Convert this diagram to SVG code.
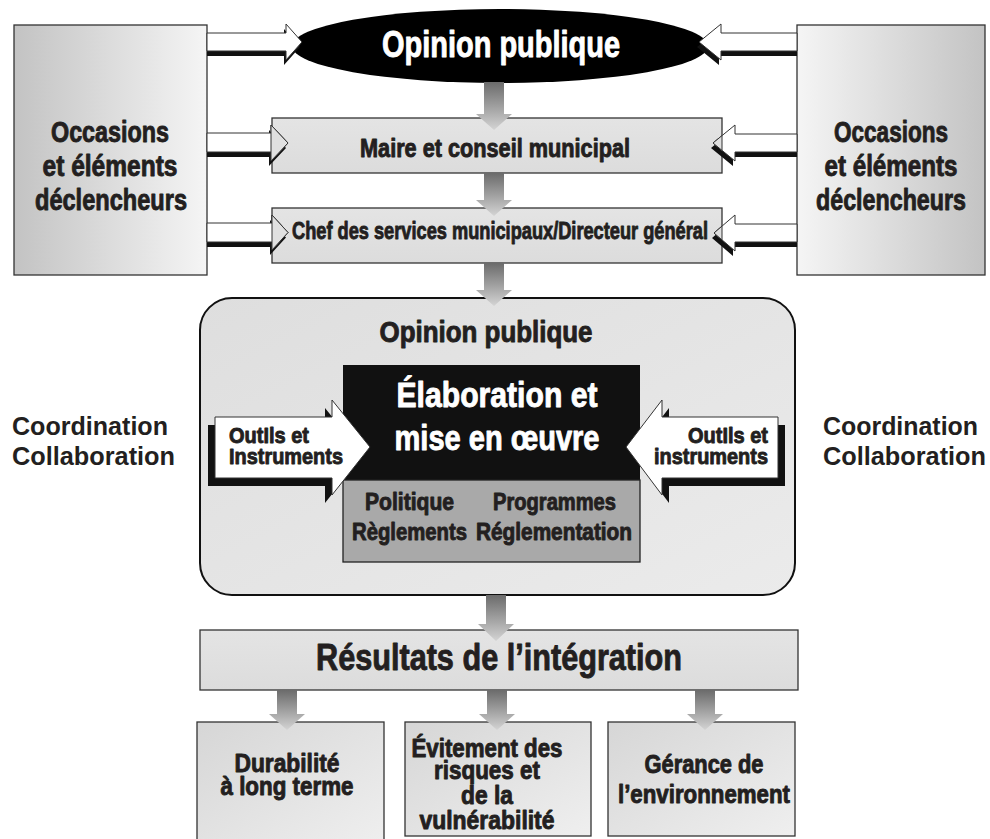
<svg xmlns="http://www.w3.org/2000/svg" width="990" height="839" viewBox="0 0 990 839">
<style>
.t{font-family:"Liberation Sans Narrow","Liberation Sans",Arial,sans-serif;font-weight:bold;fill:#231f20;stroke:#231f20;stroke-width:0.9;stroke-linejoin:round}
.w{font-family:"Liberation Sans Narrow","Liberation Sans",Arial,sans-serif;font-weight:bold;fill:#ffffff;stroke:#ffffff;stroke-width:0.9;stroke-linejoin:round}
.h{font-family:"Liberation Sans",Arial,sans-serif;font-weight:bold;fill:#231f20}
.box{stroke:#333;stroke-width:1.3}
.out{fill:#fff;stroke:#333;stroke-width:1}
.sh{fill:#111}
.inh{fill:#e0e0e0;stroke:#333;stroke-width:1}
.down{fill:url(#gDown)}
</style>
<defs>
<linearGradient id="gLeft" x1="0" y1="0" x2="1" y2="0"><stop offset="0" stop-color="#c3c3c3"/><stop offset="1" stop-color="#f5f5f5"/></linearGradient>
<linearGradient id="gRight" x1="0" y1="0" x2="1" y2="0"><stop offset="0" stop-color="#f5f5f5"/><stop offset="1" stop-color="#c3c3c3"/></linearGradient>
<linearGradient id="gBox" x1="0" y1="0" x2="0" y2="1"><stop offset="0" stop-color="#e4e4e4"/><stop offset="1" stop-color="#dcdcdc"/></linearGradient>
<linearGradient id="gRound" x1="0" y1="0" x2="1" y2="1"><stop offset="0" stop-color="#dedede"/><stop offset="1" stop-color="#ebebeb"/></linearGradient>
<linearGradient id="gBottom" x1="0" y1="0" x2="1" y2="1"><stop offset="0" stop-color="#d6d6d6"/><stop offset="1" stop-color="#efefef"/></linearGradient>
<linearGradient id="gDown" x1="0" y1="0" x2="0" y2="1"><stop offset="0" stop-color="#6b6b6b"/><stop offset="0.6" stop-color="#a9a9a9"/><stop offset="1" stop-color="#d4d4d4"/></linearGradient>
</defs>
<rect width="990" height="839" fill="#fff"/>

<g id="occasions-left">
<rect class="box" x="14" y="25" width="193" height="250" fill="url(#gLeft)"/>
<text class="t" x="110" y="142" font-size="29" text-anchor="middle" textLength="118" lengthAdjust="spacingAndGlyphs">Occasions</text>
<text class="t" x="110" y="176" font-size="29" text-anchor="middle" textLength="135" lengthAdjust="spacingAndGlyphs">et éléments</text>
<text class="t" x="111" y="210" font-size="29" text-anchor="middle" textLength="152" lengthAdjust="spacingAndGlyphs">déclencheurs</text>
</g>
<g id="occasions-right">
<rect class="box" x="797" y="25" width="188" height="250" fill="url(#gRight)"/>
<text class="t" x="891" y="142" font-size="29" text-anchor="middle" textLength="114" lengthAdjust="spacingAndGlyphs">Occasions</text>
<text class="t" x="891" y="176" font-size="29" text-anchor="middle" textLength="133" lengthAdjust="spacingAndGlyphs">et éléments</text>
<text class="t" x="891" y="210" font-size="29" text-anchor="middle" textLength="150" lengthAdjust="spacingAndGlyphs">déclencheurs</text>
</g>
<g id="opinion-top">
<ellipse cx="500" cy="46" rx="208" ry="37" fill="#000"/>
<text class="w" x="501" y="57" font-size="36" text-anchor="middle" textLength="238" lengthAdjust="spacingAndGlyphs">Opinion publique</text>
</g>
<g id="maire">
<rect class="box" x="272" y="118" width="450" height="55" fill="url(#gBox)"/>
<text class="t" x="495" y="157" font-size="25" text-anchor="middle" textLength="270" lengthAdjust="spacingAndGlyphs">Maire et conseil municipal</text>
</g>
<g id="chef">
<rect class="box" x="272" y="208" width="450" height="55" fill="url(#gBox)"/>
<text class="t" x="500" y="239" font-size="24" text-anchor="middle" textLength="416" lengthAdjust="spacingAndGlyphs">Chef des services municipaux/Directeur général</text>
</g>
<g id="coordination-left">
<text class="h" x="12" y="435" font-size="25" textLength="156" lengthAdjust="spacingAndGlyphs">Coordination</text>
<text class="h" x="12" y="465" font-size="25" textLength="163" lengthAdjust="spacingAndGlyphs">Collaboration</text>
</g>
<g id="coordination-right">
<text class="h" x="823" y="435" font-size="25" textLength="155" lengthAdjust="spacingAndGlyphs">Coordination</text>
<text class="h" x="823" y="465" font-size="25" textLength="163" lengthAdjust="spacingAndGlyphs">Collaboration</text>
</g>
<g id="cadre-politique">
<rect x="200" y="298" width="595" height="297" rx="32" fill="url(#gRound)" stroke="#111" stroke-width="2"/>
<text class="t" x="486" y="342" font-size="29" text-anchor="middle" textLength="213" lengthAdjust="spacingAndGlyphs">Opinion publique</text>
</g>
<g id="elaboration">
<rect x="343" y="365" width="297" height="115" fill="#111"/>
<text class="w" x="497" y="407" font-size="35" text-anchor="middle" textLength="201" lengthAdjust="spacingAndGlyphs">Élaboration et</text>
<text class="w" x="497" y="450" font-size="35" text-anchor="middle" textLength="205" lengthAdjust="spacingAndGlyphs">mise en œuvre</text>
</g>
<g id="instruments-liste">
<rect x="343" y="480" width="297" height="82" fill="#a9a9a9" stroke="#222" stroke-width="1.3"/>
<text class="t" x="365" y="510" font-size="23" textLength="89" lengthAdjust="spacingAndGlyphs">Politique</text>
<text class="t" x="493" y="510" font-size="23" textLength="123" lengthAdjust="spacingAndGlyphs">Programmes</text>
<text class="t" x="352" y="540" font-size="23" textLength="115" lengthAdjust="spacingAndGlyphs">Règlements</text>
<text class="t" x="476" y="540" font-size="23" textLength="156" lengthAdjust="spacingAndGlyphs">Réglementation</text>
</g>
<g id="outils-gauche">
<polygon class="sh" points="208,425 325,425 325,408 363,455 325,503 325,486 208,486"/>
<polygon class="out" points="215,417 332,417 332,400 370,447 332,495 332,478 215,478"/>
<text class="t" x="229" y="443" font-size="22" textLength="80" lengthAdjust="spacingAndGlyphs">OutIls et</text>
<text class="t" x="229" y="464" font-size="22" textLength="114" lengthAdjust="spacingAndGlyphs">Instruments</text>
</g>
<g id="outils-droite">
<polygon class="sh" points="785,425 669,425 669,408 633,455 669,503 669,486 785,486"/>
<polygon class="out" points="778,417 662,417 662,400 626,447 662,495 662,478 778,478"/>
<text class="t" x="768" y="443" font-size="22" text-anchor="end" textLength="80" lengthAdjust="spacingAndGlyphs">OutIls et</text>
<text class="t" x="768" y="464" font-size="22" text-anchor="end" textLength="114" lengthAdjust="spacingAndGlyphs">instruments</text>
</g>
<g id="resultats">
<rect class="box" x="200" y="630" width="598" height="60" fill="url(#gBox)"/>
<text class="t" x="499" y="670" font-size="37" text-anchor="middle" textLength="366" lengthAdjust="spacingAndGlyphs">Résultats de l’intégration</text>
</g>
<g id="durabilite">
<rect class="box" x="197" y="722" width="187" height="125" fill="url(#gBottom)"/>
<text class="t" x="287" y="772" font-size="25" text-anchor="middle" textLength="105" lengthAdjust="spacingAndGlyphs">Durabilité</text>
<text class="t" x="287" y="795" font-size="25" text-anchor="middle" textLength="133" lengthAdjust="spacingAndGlyphs">à long terme</text>
</g>
<g id="evitement">
<rect class="box" x="405" y="722" width="186" height="114" fill="url(#gBottom)"/>
<text class="t" x="487" y="757" font-size="25" text-anchor="middle" textLength="151" lengthAdjust="spacingAndGlyphs">Évitement des</text>
<text class="t" x="487" y="779" font-size="25" text-anchor="middle" textLength="106" lengthAdjust="spacingAndGlyphs">risques et</text>
<text class="t" x="487" y="804" font-size="25" text-anchor="middle" textLength="52" lengthAdjust="spacingAndGlyphs">de la</text>
<text class="t" x="487" y="829" font-size="25" text-anchor="middle" textLength="135" lengthAdjust="spacingAndGlyphs">vulnérabilité</text>
</g>
<g id="gerance">
<rect class="box" x="608" y="722" width="187" height="114" fill="url(#gBottom)"/>
<text class="t" x="704" y="773" font-size="25" text-anchor="middle" textLength="119" lengthAdjust="spacingAndGlyphs">Gérance de</text>
<text class="t" x="704" y="803" font-size="25" text-anchor="middle" textLength="172" lengthAdjust="spacingAndGlyphs">l’environnement</text>
</g>

<g id="connecteurs">
<polygon class="sh" points="207,38 284,38 284,29 300,47 284,65 284,56 207,56"/>
<polygon class="out" points="207,33 286,33 286,24 302,42 286,60 286,51 207,51"/>
<polygon class="sh" points="207,138 269,138 269,130 286,148 269,166 269,157 207,157"/>
<polygon class="out" points="207,133 271,133 271,125 288,143 271,161 271,152 207,152"/>
<polygon class="inh" points="271,125 288,143 271,161"/>
<polygon class="sh" points="207,228 270,228 270,220 286,237.5 270,255 270,247 207,247"/>
<polygon class="out" points="207,223 272,223 272,215 288,232.5 272,250 272,242 207,242"/>
<polygon class="inh" points="272,215 288,232.5 272,250"/>
<polygon class="sh" points="797,38 719,38 719,29 697,47 719,65 719,56 797,56"/>
<polygon class="out" points="797,33 721,33 721,24 699,42 721,60 721,51 797,51"/>
<polygon class="sh" points="797,139 733,139 733,130 711,148 733,166 733,157 797,157"/>
<polygon class="out" points="797,134 735,134 735,125 713,143 735,161 735,152 797,152"/>
<polygon class="inh" points="722,135.6 713,143 722,150.4"/>
<polygon class="sh" points="797,229 733,229 733,220 712,238 733,256 733,247 797,247"/>
<polygon class="out" points="797,224 735,224 735,215 714,233 735,251 735,242 797,242"/>
<polygon class="inh" points="722,226.1 714,233 722,239.9"/>
<path class="down" d="M484,82 H504 V114 H512 L494,130 L476,114 H484 Z"/>
<path class="down" d="M484,173 H504 V200 H512 L494,216 L476,200 H484 Z"/>
<path class="down" d="M484,263 H504 V290 H512 L494,306 L476,290 H484 Z"/>
<path class="down" d="M486,595 H506 V624 H514 L496,641 L478,624 H486 Z"/>
<path class="down" d="M277,690 H297 V714 H305 L287,730 L269,714 H277 Z"/>
<path class="down" d="M487,690 H507 V714 H515 L497,730 L479,714 H487 Z"/>
<path class="down" d="M695,690 H715 V714 H723 L705,730 L687,714 H695 Z"/>
</g>
</svg>
